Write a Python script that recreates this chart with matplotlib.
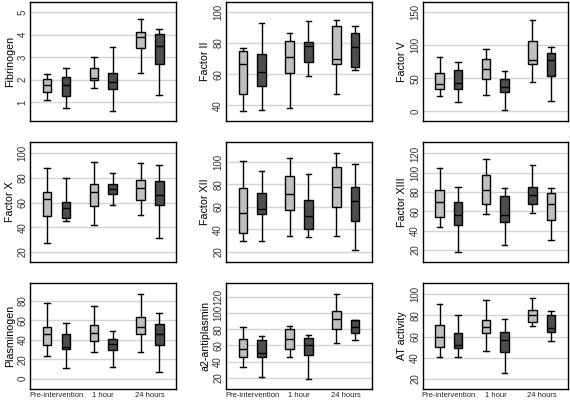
import numpy as np
import matplotlib.pyplot as plt

plt.rcParams['font.family'] = ['Liberation Sans', 'DejaVu Sans']

# time points (x tick labels, bottom row only)
timepoints = ['Pre-intervention', '1 hour', '24 hours']

# each box: [whisker low, Q1, median, Q3, whisker high]
fibrinogen = [[1.09, 1.44, 1.75, 2.04, 2.25], [0.74, 1.29, 1.79, 2.13, 2.53],
              [1.62, 1.97, 2.10, 2.50, 3.01], [0.60, 1.57, 1.90, 2.32, 3.46],
              [2.32, 3.41, 3.87, 4.12, 4.69], [1.31, 2.68, 3.51, 4.03, 4.25]]
factor_ii = [[36.2, 47.5, 66.3, 75.2, 76.9], [36.8, 52.6, 61.2, 72.7, 93.2],
             [38.1, 60.5, 70.8, 81.6, 86.6], [59.0, 68.0, 78.4, 80.8, 94.5],
             [47.1, 66.3, 69.5, 91.2, 95.1], [62.4, 64.4, 77.2, 86.8, 91.2]]
factor_v = [[22.6, 33.2, 40.7, 57.2, 82.3], [14.1, 33.2, 42.7, 62.7, 73.8],
            [24.1, 48.2, 63.2, 78.3, 94.3], [1.6, 28.6, 36.2, 49.2, 61.2],
            [43.7, 70.8, 76.8, 106.4, 138.5], [15.1, 53.7, 77.8, 87.3, 97.3]]
factor_x = [[27.3, 49.1, 62.8, 69.0, 88.4], [44.8, 47.5, 55.6, 60.9, 80.3],
            [41.8, 57.2, 68.5, 74.9, 93.3], [58.0, 67.4, 70.9, 75.5, 83.8],
            [49.9, 61.8, 71.7, 78.2, 92.5], [31.3, 58.5, 66.1, 77.4, 90.8]]
factor_xii = [[29.4, 36.8, 54.4, 76.5, 100.3], [29.4, 53.5, 57.9, 72.6, 91.5],
              [34.4, 56.8, 71.8, 87.6, 103.5], [33.2, 40.3, 51.8, 65.9, 89.4],
              [34.4, 60.0, 77.4, 95.0, 107.4], [21.8, 47.4, 65.0, 77.4, 97.6]]
factor_xiii = [[43.7, 54.0, 69.5, 81.9, 104.5], [17.9, 45.8, 56.1, 70.2, 85.6],
               [57.1, 67.4, 81.9, 97.3, 113.8], [25.2, 48.9, 56.1, 75.7, 83.9],
               [58.1, 67.4, 76.7, 85.0, 107.6], [30.0, 50.9, 67.4, 78.8, 83.9]]
plasminogen = [[23.3, 34.3, 46.0, 53.2, 77.9], [10.6, 30.2, 32.3, 46.0, 57.7],
               [27.5, 38.8, 47.4, 55.3, 74.8], [12.0, 29.5, 35.7, 40.9, 49.1],
               [27.5, 46.0, 53.2, 63.5, 87.2], [6.9, 34.3, 46.0, 56.3, 67.6]]
antiplasmin = [[33.2, 45.5, 55.8, 67.7, 82.6], [20.8, 45.5, 50.9, 66.5, 71.4],
               [45.5, 55.4, 67.7, 80.1, 83.8], [18.8, 48.0, 60.3, 69.0, 72.7],
               [63.2, 80.1, 92.8, 102.7, 123.7], [66.9, 75.6, 82.6, 91.2, 91.2]]
at_activity = [[40.5, 50.2, 59.7, 71.0, 90.9], [40.5, 49.0, 51.8, 63.5, 80.5],
               [46.5, 63.5, 69.1, 75.7, 94.6], [25.4, 45.5, 56.9, 64.4, 76.7],
               [70.1, 73.9, 80.5, 85.2, 96.2], [55.9, 64.4, 68.2, 80.5, 84.3]]

# shade of each box (L = light, D = dark)
shades_default = ['L', 'D', 'L', 'D', 'L', 'D']
shades_xiii = ['L', 'D', 'L', 'D', 'D', 'L']

panels = [
    ('Fibrinogen', fibrinogen, [1, 2, 3, 4, 5], (0.18, 5.44), shades_default),
    ('Factor II', factor_ii, [40, 60, 80, 100], (30.0, 106.4), shades_default),
    ('Factor V', factor_v, [0, 50, 100, 150], (-14.5, 165), shades_default),
    ('Factor X', factor_x, [20, 40, 60, 80, 100], (11.9, 109.4), shades_default),
    ('Factor XII', factor_xii, [20, 40, 60, 80, 100], (11.2, 117.6), shades_default),
    ('Factor XIII', factor_xiii, [20, 40, 60, 80, 100, 120], (7.6, 132.0), shades_xiii),
    ('Plasminogen', plasminogen, [0, 20, 40, 60, 80], (-10.6, 98.5), shades_default),
    ('a2-antiplasmin', antiplasmin, [20, 40, 60, 80, 100, 120], (6.4, 137.3), shades_default),
    ('AT activity', at_activity, [20, 40, 60, 80, 100], (10.6, 110.7), shades_default),
]

colours = {'L': '#bfbfbf', 'D': '#4d4d4d'}
lefts = [0.053, 0.3965, 0.742]
widths = [0.256, 0.256, 0.254]
rows = [(0.700, 0.295), (0.350, 0.298), (0.035, 0.263)]

positions = [0.8, 1.2, 1.8, 2.2, 2.8, 3.2]

fig = plt.figure(figsize=(5.7, 4.03), dpi=100)

for i, (name, boxes, yticks, ylim, shades) in enumerate(panels):
    r, c = divmod(i, 3)
    ax = fig.add_axes([lefts[c], rows[r][0], widths[c], rows[r][1]])
    stats = []
    for b in boxes:
        stats.append({'whislo': b[0], 'q1': b[1], 'med': b[2], 'q3': b[3], 'whishi': b[4]})
    bp = ax.bxp(stats, positions=positions, widths=0.18, showfliers=False,
                patch_artist=True,
                boxprops=dict(edgecolor='black', linewidth=1.0),
                medianprops=dict(color='black', linewidth=1.0),
                whiskerprops=dict(color='black', linewidth=1.0),
                capprops=dict(color='black', linewidth=1.0),
                capwidths=0.12)
    for patch, s in zip(bp['boxes'], shades):
        patch.set_facecolor(colours[s])
    ax.set_xlim(0.44, 3.56)
    ax.set_ylim(*ylim)
    ax.set_yticks(yticks)
    ax.set_yticklabels([str(t) for t in yticks], rotation=90, va='center',
                       fontsize=7, color='#333333')
    ax.yaxis.grid(True, color='#d4d4d4', linewidth=1.0)
    ax.set_axisbelow(True)
    ax.tick_params(length=0, pad=2)
    ax.set_ylabel(name, fontsize=7.7, labelpad=2)
    if r == 2:
        ax.set_xticks([1, 2, 3])
        ax.set_xticklabels(timepoints, fontsize=5.5, color='#222222')
    else:
        ax.set_xticks([])
    for sp in ax.spines.values():
        sp.set_linewidth(1.0)

plt.savefig('out.png', dpi=100)
